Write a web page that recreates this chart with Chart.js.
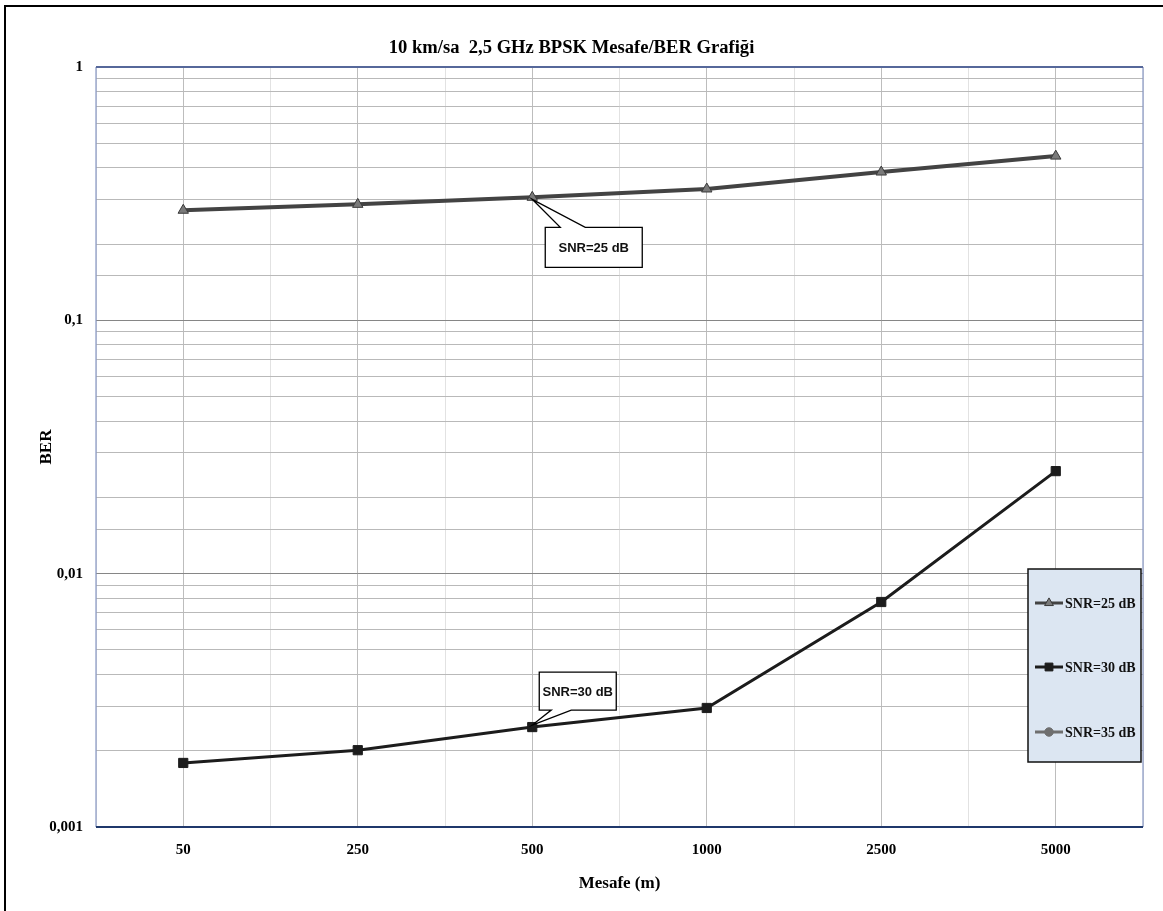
<!DOCTYPE html>
<html lang="tr">
<head>
<meta charset="utf-8">
<title>10 km/sa 2,5 GHz BPSK Mesafe/BER Grafiği</title>
<script src="https://cdn.jsdelivr.net/npm/chart.js@4/dist/chart.umd.min.js"></script>
<style>
  html, body { margin: 0; padding: 0; background: #fff; }
  #wrap { width: 1163px; height: 911px; }
</style>
</head>
<body>
<div id="wrap"><canvas id="c" width="1163" height="911"></canvas></div>
<script>
// Distance categories (m)
const distances = ['50', '250', '500', '1000', '2500', '5000'];

// BER per SNR
const ber25 = [0.272, 0.287, 0.306, 0.330, 0.385, 0.445];
const ber30 = [0.00179, 0.00201, 0.00248, 0.00295, 0.00773, 0.0254];
const ber35 = [null, null, null, null, null, null];

const seriesNames = ['SNR=25 dB', 'SNR=30 dB', 'SNR=35 dB'];

// Decade labels on the BER axis (comma decimal separator)
const decadeValues = [1, 0.1, 0.01, 0.001];
const decadeLabels = ['1', '0,1', '0,01', '0,001'];

const titleText = '10 km/sa  2,5 GHz BPSK Mesafe/BER Grafiği';
const xTitle = 'Mesafe (m)';
const yTitle = 'BER';

const SERIF = "'Liberation Serif', 'Times New Roman', serif";
const NARROW = "'Liberation Sans Narrow', 'Arial Narrow', 'Liberation Sans', sans-serif";

function decadeIndex(v) {
  for (let i = 0; i < decadeValues.length; i++) {
    if (Math.abs(v - decadeValues[i]) / decadeValues[i] < 1e-6) return i;
  }
  return -1;
}

// White page with the outer black frame
const framePlugin = {
  id: 'frame',
  beforeDraw(chart) {
    const ctx = chart.ctx;
    ctx.save();
    ctx.fillStyle = '#fff';
    ctx.fillRect(0, 0, chart.width, chart.height);
    ctx.strokeStyle = '#000';
    ctx.lineWidth = 2;
    ctx.strokeRect(5, 6, chart.width + 20, chart.height + 20);
    ctx.restore();
  }
};

// Plot-area outline
const plotBorderPlugin = {
  id: 'plotBorder',
  beforeDatasetsDraw(chart) {
    const { ctx, chartArea: a } = chart;
    ctx.save();
    ctx.lineWidth = 1.2;
    ctx.strokeStyle = '#8797c3';
    ctx.beginPath();
    ctx.moveTo(a.left, a.top); ctx.lineTo(a.left, a.bottom);
    ctx.moveTo(a.right, a.top); ctx.lineTo(a.right, a.bottom);
    ctx.stroke();
    ctx.lineWidth = 2;
    ctx.strokeStyle = '#56689a';
    ctx.beginPath(); ctx.moveTo(a.left, a.top); ctx.lineTo(a.right, a.top); ctx.stroke();
    ctx.strokeStyle = '#1f386b';
    ctx.beginPath(); ctx.moveTo(a.left, a.bottom); ctx.lineTo(a.right, a.bottom); ctx.stroke();
    ctx.restore();
  }
};

// Speech-bubble labels pointing at the 500 m points
function callout(ctx, px, py, box, tip, text) {
  const { x0, y0, x1, y1 } = box;
  ctx.beginPath();
  if (tip.side === 'top') {
    ctx.moveTo(x0, y0);
    ctx.lineTo(tip.a, y0);
    ctx.lineTo(px, py);
    ctx.lineTo(tip.b, y0);
    ctx.lineTo(x1, y0);
    ctx.lineTo(x1, y1);
    ctx.lineTo(x0, y1);
  } else {
    ctx.moveTo(x0, y0);
    ctx.lineTo(x1, y0);
    ctx.lineTo(x1, y1);
    ctx.lineTo(tip.b, y1);
    ctx.lineTo(px, py);
    ctx.lineTo(tip.a, y1);
    ctx.lineTo(x0, y1);
  }
  ctx.closePath();
  ctx.fillStyle = '#fff';
  ctx.fill();
  ctx.lineWidth = 1.3;
  ctx.strokeStyle = '#000';
  ctx.stroke();
  ctx.fillStyle = '#111';
  ctx.font = 'bold 13px ' + NARROW;
  ctx.textAlign = 'center';
  ctx.textBaseline = 'middle';
  ctx.fillText(text, (x0 + x1) / 2, (y0 + y1) / 2 + 1);
}

const calloutPlugin = {
  id: 'callouts',
  afterDatasetsDraw(chart) {
    const ctx = chart.ctx;
    ctx.save();
    const p25 = chart.getDatasetMeta(0).data[2];
    if (p25) {
      const x = p25.x, y = p25.y;
      callout(ctx, x, y + 2,
        { x0: x + 13, y0: y + 30, x1: x + 110, y1: y + 70 },
        { side: 'top', a: x + 28, b: x + 53 },
        chart.data.datasets[0].label);
    }
    const p30 = chart.getDatasetMeta(1).data[2];
    if (p30) {
      const x = p30.x, y = p30.y;
      callout(ctx, x, y - 2,
        { x0: x + 7, y0: y - 55, x1: x + 84, y1: y - 17 },
        { side: 'bottom', a: x + 19, b: x + 39 },
        chart.data.datasets[1].label);
    }
    ctx.restore();
  }
};

// Boxed legend at the right-hand side of the plot
const boxLegendPlugin = {
  id: 'boxLegend',
  afterDraw(chart) {
    const { ctx, chartArea: a } = chart;
    const bx = a.right - 115, by = 569, bw = 113, bh = 193;
    ctx.save();
    ctx.fillStyle = '#dce6f2';
    ctx.fillRect(bx, by, bw, bh);
    ctx.lineWidth = 1.5;
    ctx.strokeStyle = '#111';
    ctx.strokeRect(bx, by, bw, bh);
    const rows = [603, 667, 732];
    chart.data.datasets.forEach((ds, i) => {
      const y = rows[i];
      ctx.strokeStyle = ds.borderColor;
      ctx.lineWidth = 3;
      ctx.beginPath();
      ctx.moveTo(bx + 7, y);
      ctx.lineTo(bx + 35, y);
      ctx.stroke();
      ctx.fillStyle = ds.pointBackgroundColor;
      ctx.strokeStyle = ds.pointBorderColor;
      ctx.lineWidth = 1;
      Chart.helpers.drawPoint(ctx, {
        pointStyle: ds.pointStyle,
        radius: ds.pointRadius * 0.85,
        rotation: 0,
        borderWidth: 1
      }, bx + 21, y);
      ctx.fillStyle = '#111';
      ctx.font = 'bold 14px ' + SERIF;
      ctx.textAlign = 'left';
      ctx.textBaseline = 'middle';
      ctx.fillText(ds.label, bx + 37, y + 1);
    });
    ctx.restore();
  }
};

new Chart(document.getElementById('c'), {
  type: 'line',
  data: {
    labels: distances,
    datasets: [
      {
        label: seriesNames[0],
        data: ber25,
        borderColor: '#434343',
        borderWidth: 4,
        pointStyle: 'triangle',
        pointRadius: 6,
        pointBackgroundColor: '#7a7a7a',
        pointBorderColor: '#3a3a3a',
        pointBorderWidth: 1,
        tension: 0
      },
      {
        label: seriesNames[1],
        data: ber30,
        borderColor: '#1c1c1c',
        borderWidth: 3,
        pointStyle: 'rect',
        pointRadius: 6.5,
        pointBackgroundColor: '#1c1c1c',
        pointBorderColor: '#1c1c1c',
        pointBorderWidth: 1,
        tension: 0
      },
      {
        label: seriesNames[2],
        data: ber35,
        borderColor: '#6f6f6f',
        borderWidth: 3,
        pointStyle: 'circle',
        pointRadius: 5,
        pointBackgroundColor: '#6f6f6f',
        pointBorderColor: '#6f6f6f',
        pointBorderWidth: 1,
        tension: 0
      }
    ]
  },
  options: {
    responsive: false,
    animation: false,
    devicePixelRatio: 1,
    layout: { padding: { left: 0, top: 36, right: 20, bottom: 16 } },
    plugins: {
      legend: { display: false },
      tooltip: { enabled: false },
      title: {
        display: true,
        text: titleText,
        color: '#000',
        font: { family: SERIF, size: 18.6, weight: 'bold' },
        padding: { top: 1, bottom: 7.7 }
      }
    },
    scales: {
      x: {
        type: 'category',
        position: 'bottom',
        offset: true,
        grid: { offset: false, color: '#bdbdbd', lineWidth: 1, drawTicks: false },
        border: { display: false },
        ticks: {
          color: '#000',
          padding: 14,
          font: { family: SERIF, size: 15, weight: 'bold' },
          maxRotation: 0
        },
        title: {
          display: true,
          text: xTitle,
          color: '#000',
          font: { family: SERIF, size: 17, weight: 'bold' },
          padding: { top: 0, bottom: 1 }
        },
        afterFit(scale) { scale.height = 68; }
      },
      xMinor: {
        type: 'category',
        position: 'top',
        labels: distances,
        offset: true,
        grid: { offset: true, color: '#e2e2e2', lineWidth: 1, drawTicks: false },
        border: { display: false },
        ticks: { display: false },
        afterFit(scale) { scale.height = 0; }
      },
      y: {
        type: 'logarithmic',
        min: 0.001,
        max: 1,
        grid: {
          drawTicks: false,
          lineWidth: 1,
          color: (c) => (c.tick && decadeIndex(c.tick.value) >= 0) ? '#868686' : '#b9b9b9'
        },
        border: { display: false },
        ticks: {
          autoSkip: false,
          color: '#000',
          padding: 13,
          font: { family: SERIF, size: 15, weight: 'bold' },
          callback: (v) => {
            const i = decadeIndex(v);
            return i >= 0 ? decadeLabels[i] : '';
          }
        },
        title: {
          display: true,
          text: yTitle,
          color: '#000',
          font: { family: SERIF, size: 17, weight: 'bold' },
          padding: { top: 36, bottom: 0 }
        },
        afterFit(scale) { scale.width = 96; }
      }
    }
  },
  plugins: [framePlugin, plotBorderPlugin, calloutPlugin, boxLegendPlugin]
});
</script>
</body>
</html>
